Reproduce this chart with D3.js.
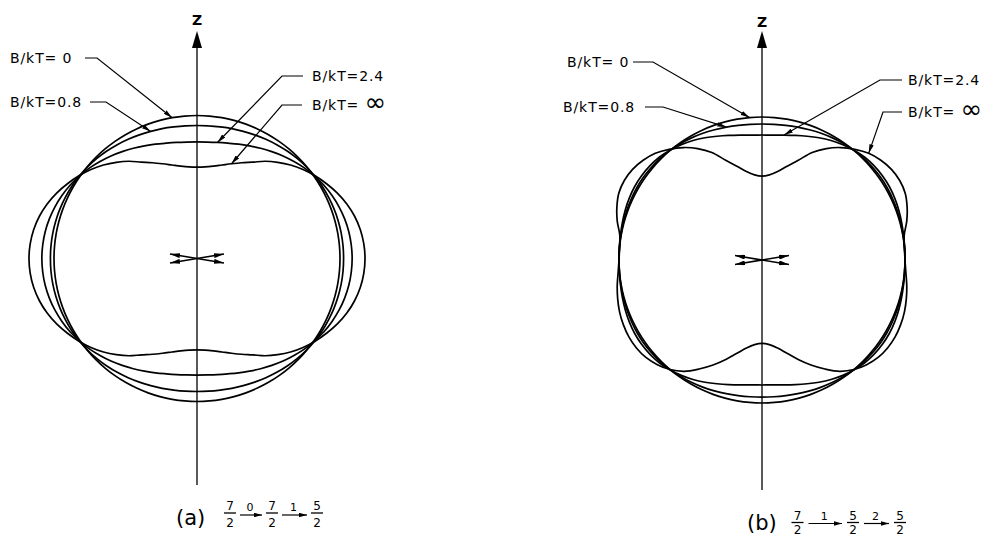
<!DOCTYPE html>
<html>
<head>
<meta charset="utf-8">
<script src="https://cdn.jsdelivr.net/npm/d3@7"></script>
<style>
  html, body { margin: 0; padding: 0; background: #fff; }
  svg { display: block; }
  text { font-family: "DejaVu Sans", sans-serif; fill: #000; }
</style>
</head>
<body>
<svg id="chart" width="995" height="537"></svg>
<script>
// Polar angle from the Z axis (degrees), right half of each pattern.
const thetaDeg = [0, 5, 10, 15, 20, 25, 30, 35, 40, 45, 50, 55, 60, 65, 70, 75, 80, 85, 90,
                  95, 100, 105, 110, 115, 120, 125, 130, 135, 140, 145, 150, 155, 160, 165, 170, 175, 180];

const seriesLabels = ["B/kT= 0", "B/kT=0.8", "B/kT=2.4", "B/kT= \u221E"];

// (a)  7/2 -0-> 7/2 -1-> 5/2   : relative intensity W(theta)
const aW0   = [1,1,1,1,1,1,1,1,1,1,1,1,1,1,1,1,1,1,1, 1,1,1,1,1,1,1,1,1,1,1,1,1,1,1,1,1,1];
const aW08  = [0.930,0.931,0.934,0.940,0.946,0.954,0.963,0.972,0.981,0.990,0.998,1.005,1.011,1.015,1.019,1.022,1.024,1.025,1.025,
               1.025,1.024,1.022,1.019,1.015,1.011,1.005,0.998,0.990,0.981,0.972,0.963,0.954,0.946,0.940,0.934,0.931,0.930];
const aW24  = [0.815,0.817,0.824,0.835,0.851,0.869,0.890,0.912,0.936,0.959,0.983,1.004,1.025,1.042,1.057,1.069,1.078,1.083,1.085,
               1.083,1.078,1.069,1.057,1.042,1.025,1.004,0.983,0.959,0.936,0.912,0.890,0.869,0.851,0.835,0.824,0.817,0.815];
const aWInf = [0.639,0.643,0.656,0.677,0.705,0.739,0.778,0.830,0.878,0.925,0.968,1.008,1.046,1.083,1.115,1.141,1.160,1.171,1.175,
               1.171,1.160,1.141,1.115,1.083,1.046,1.008,0.968,0.925,0.878,0.830,0.778,0.739,0.705,0.677,0.656,0.643,0.639];

// (b)  7/2 -1-> 5/2 -2-> 5/2
const bW0   = [1,1,1,1,1,1,1,1,1,1,1,1,1,1,1,1,1,1,1, 1,1,1,1,1,1,1,1,1,1,1,1,1,1,1,1,1,1];
const bW08  = [0.951,0.952,0.956,0.962,0.969,0.978,0.986,0.994,1.001,1.006,1.009,1.011,1.011,1.009,1.007,1.004,1.002,1.001,1.000,
               1.001,1.002,1.004,1.007,1.009,1.011,1.011,1.009,1.006,1.001,0.995,0.988,0.981,0.974,0.968,0.963,0.960,0.959];
const bW24  = [0.874,0.877,0.887,0.902,0.921,0.943,0.965,0.985,1.002,1.016,1.024,1.028,1.028,1.024,1.018,1.011,1.005,1.001,1.000,
               1.001,1.005,1.011,1.018,1.024,1.028,1.028,1.024,1.016,1.002,0.985,0.965,0.943,0.921,0.902,0.887,0.877,0.874];
const bWInf = [0.587,0.598,0.629,0.679,0.742,0.830,0.900,0.960,1.010,1.055,1.085,1.105,1.112,1.105,1.080,1.048,1.010,1.000,1.000,
               1.010,1.028,1.045,1.060,1.070,1.075,1.072,1.060,1.035,1.000,0.950,0.880,0.810,0.740,0.675,0.625,0.594,0.583];

// Cascade captions
const spinsA = ["7/2", "7/2", "5/2"], multipolesA = ["0", "1"];
const spinsB = ["7/2", "5/2", "5/2"], multipolesB = ["1", "2"];

const svg = d3.select("#chart");
const rScale = d3.scaleLinear().domain([0, 1]).range([0, 143]);
const rad = d => d * Math.PI / 180;

const defs = svg.append("defs");
function headMarker(id, len, wid) {
  defs.append("marker")
    .attr("id", id)
    .attr("viewBox", "0 0 10 10")
    .attr("refX", 10).attr("refY", 5)
    .attr("markerWidth", len).attr("markerHeight", wid)
    .attr("markerUnits", "userSpaceOnUse")
    .attr("preserveAspectRatio", "none")
    .attr("orient", "auto-start-reverse")
    .append("path").attr("d", "M0,0 L10,5 L0,10 Z").attr("fill", "#000");
}
headMarker("lead", 9, 4.5);
headMarker("spin", 10, 5);
headMarker("chain", 8, 4.5);

// Closed outline: right half as listed, left half mirrored across Z.
function outline(vals) {
  const pts = thetaDeg.map((t, i) => [rad(t), rScale(vals[i])]);
  for (let i = thetaDeg.length - 2; i > 0; i--) pts.push([rad(360 - thetaDeg[i]), rScale(vals[i])]);
  return pts;
}
const radial = d3.lineRadial().curve(d3.curveCatmullRomClosed.alpha(0.5));

function pointOn(vals, angleDeg) {
  const i = thetaDeg.indexOf(Math.abs(angleDeg));
  const r = rScale(vals[i]);
  const a = rad(angleDeg);
  return [r * Math.sin(a), -r * Math.cos(a)];
}

function panel(cfg) {
  const g = svg.append("g").attr("transform", `translate(${cfg.cx},${cfg.cy})`);

  // Z axis
  g.append("line")
    .attr("x1", 0).attr("x2", 0)
    .attr("y1", cfg.axisBottom - cfg.cy).attr("y2", 47 - cfg.cy)
    .attr("stroke", "#000").attr("stroke-width", 1.3);
  g.append("path")
    .attr("d", `M0,${31 - cfg.cy} L-5,${48 - cfg.cy} L5,${48 - cfg.cy} Z`)
    .attr("fill", "#000");
  g.append("text")
    .attr("x", 0).attr("y", cfg.zBase - cfg.cy)
    .attr("text-anchor", "middle").attr("font-size", 14).attr("font-weight", "bold")
    .text("Z");

  // spin directions at the origin
  [[-27, -4.5, 27, 4.5], [-27, 4.5, 27, -4.5]].forEach(s => {
    g.append("line")
      .attr("x1", s[0]).attr("y1", s[1]).attr("x2", s[2]).attr("y2", s[3])
      .attr("stroke", "#000").attr("stroke-width", 1.6)
      .attr("marker-start", "url(#spin)").attr("marker-end", "url(#spin)");
  });

  // angular distributions
  cfg.series.forEach(vals => {
    g.append("path")
      .attr("d", radial(outline(vals)))
      .attr("fill", "none").attr("stroke", "#000").attr("stroke-width", 1.7);
  });

  // labels with leaders
  cfg.labels.forEach((lab, k) => {
    const tip = pointOn(cfg.series[k], lab.angle);
    const t = g.append("text")
      .attr("x", lab.x - cfg.cx).attr("y", lab.y - cfg.cy)
      .attr("font-size", 14).attr("letter-spacing", 0.9);
    const txt = seriesLabels[k];
    if (txt.endsWith("\u221E")) {
      t.append("tspan").text(txt.slice(0, -1));
      t.append("tspan").attr("font-size", 26).attr("dy", 1).text("\u221E");
    } else {
      t.text(txt);
    }
    const ly = lab.y - 5 - cfg.cy;
    g.append("path")
      .attr("d", d3.line()([[lab.l0 - cfg.cx, ly], [lab.l1 - cfg.cx, ly], tip]))
      .attr("fill", "none").attr("stroke", "#000").attr("stroke-width", 1.2)
      .attr("marker-end", "url(#lead)");
  });

  // caption: tag and cascade
  const c = cfg.caption;
  svg.append("text")
    .attr("x", c.tagX).attr("y", c.tagBase)
    .attr("font-size", 21).text(c.tag);
  c.spins.forEach((s, i) => {
    const [n, d] = s.split("/");
    const x = c.fracX[i];
    svg.append("text").attr("x", x).attr("y", c.numBase)
      .attr("text-anchor", "middle").attr("font-size", 12).text(n);
    svg.append("line").attr("x1", x - 6).attr("x2", x + 6)
      .attr("y1", c.bar).attr("y2", c.bar)
      .attr("stroke", "#000").attr("stroke-width", 1.3);
    svg.append("text").attr("x", x).attr("y", c.denBase)
      .attr("text-anchor", "middle").attr("font-size", 12).text(d);
  });
  c.multipoles.forEach((m, i) => {
    const x0 = c.fracX[i] + c.pad, x1 = c.fracX[i + 1] - c.pad;
    svg.append("line").attr("x1", x0).attr("x2", x1)
      .attr("y1", c.arrowY).attr("y2", c.arrowY)
      .attr("stroke", "#000").attr("stroke-width", 1.2)
      .attr("marker-end", "url(#chain)");
    svg.append("text").attr("x", (x0 + x1) / 2 - 1).attr("y", c.arrowY - 4)
      .attr("text-anchor", "middle").attr("font-size", 11).text(m);
  });
}

panel({
  cx: 197, cy: 258.5, axisBottom: 485, zBase: 25,
  series: [aW0, aW08, aW24, aWInf],
  labels: [
    { x: 10,  y: 63,  l0: 85,  l1: 97,  angle: -10 },
    { x: 10,  y: 107, l0: 90,  l1: 106, angle: -20 },
    { x: 312, y: 81,  l0: 303, l1: 282, angle: 10 },
    { x: 312, y: 110, l0: 302, l1: 282, angle: 20 }
  ],
  caption: {
    tag: "(a)", tagX: 176, tagBase: 524.5,
    spins: spinsA, multipoles: multipolesA,
    fracX: [230, 272, 317], pad: 10,
    numBase: 510, bar: 513, denBase: 526.5, arrowY: 515
  }
});

panel({
  cx: 762, cy: 260, axisBottom: 490, zBase: 27,
  series: [bW0, bW08, bW24, bWInf],
  labels: [
    { x: 567, y: 67,  l0: 633, l1: 653, angle: -5 },
    { x: 563, y: 112, l0: 645, l1: 663, angle: -15 },
    { x: 908, y: 85,  l0: 902, l1: 880, angle: 10 },
    { x: 908, y: 117, l0: 902, l1: 883, angle: 45 }
  ],
  caption: {
    tag: "(b)", tagX: 747, tagBase: 530,
    spins: spinsB, multipoles: multipolesB,
    fracX: [797.5, 853, 900], pad: 11,
    numBase: 519.5, bar: 522.5, denBase: 534, arrowY: 523.5
  }
});
</script>
</body>
</html>
